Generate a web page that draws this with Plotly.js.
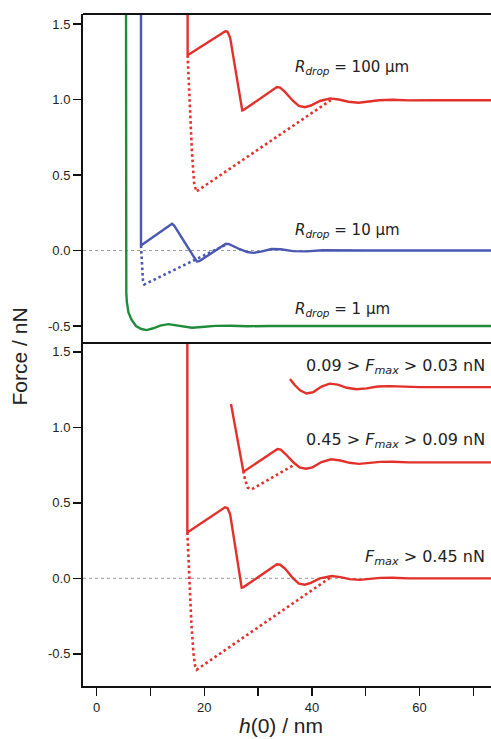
<!DOCTYPE html>
<html>
<head>
<meta charset="utf-8">
<script src="https://cdn.plot.ly/plotly-3.0.1.min.js"></script>
<style>html,body{margin:0;padding:0;background:#fff;}#chart{width:491px;height:739px;}</style>
</head>
<body>
<div id="chart"></div>
<script>
// ---- Top panel: drop radius series ----
const r1X = [5.45, 5.45, 5.45, 5.5, 5.6, 5.9, 6.5, 7.3, 8.3, 9.3, 10.5, 11.8, 13.3, 14.8, 16.3, 17.7, 19.5, 22, 25, 28, 32, 40, 50, 60, 74];
const r1Y = [1.6, 0.5, -0.2, -0.28, -0.34, -0.41, -0.46, -0.5, -0.52, -0.527, -0.515, -0.497, -0.488, -0.495, -0.507, -0.512, -0.507, -0.499, -0.498, -0.502, -0.5, -0.5, -0.5, -0.5, -0.5];

const r10X = [8.23, 8.23, 14.0, 14.4, 18.6, 19.1, 24.0, 24.6, 26.5, 28.0, 29.1, 30.5, 32.5, 34.2, 36.5, 39, 42, 46, 50, 74];
const r10Y = [1.6, 0.033, 0.177, 0.165, -0.073, -0.07, 0.044, 0.042, 0.01, -0.01, -0.016, -0.008, 0.01, 0.008, -0.004, -0.006, 0.002, 0.003, 0, 0];
const r10DotX = [8.23, 8.4, 8.6, 8.85, 23.85];
const r10DotY = [0.033, -0.12, -0.2, -0.225, 0.035];

const r100X = [16.9, 16.9, 23.9, 24.3, 24.8, 27.06, 27.3, 33.5, 34.1, 35.0, 36.5, 37.6, 38.7, 39.8, 41.5, 43.4, 45.0, 46.8, 48.7, 50.5, 52.5, 55, 58, 62, 74];
const r100Y = [1.6, 1.293, 1.452, 1.45, 1.41, 0.927, 0.93, 1.082, 1.078, 1.05, 0.99, 0.957, 0.949, 0.96, 0.99, 1.007, 1.0, 0.985, 0.978, 0.985, 0.995, 0.998, 0.994, 0.995, 0.995];
const r100DotX = [16.9, 17.3, 17.7, 18.1, 18.5, 43.7];
const r100DotY = [1.293, 0.95, 0.65, 0.45, 0.39, 1.0];

// ---- Bottom panel: Fmax series ----
const fHighX = [16.85, 16.85, 23.85, 24.3, 24.8, 26.95, 27.3, 33.5, 34.1, 35.0, 36.5, 37.6, 38.7, 39.8, 41.5, 43.7, 45.3, 47.0, 48.9, 50.7, 52.7, 55, 58, 74];
const fHighY = [1.6, 0.304, 0.47, 0.465, 0.425, -0.062, -0.058, 0.093, 0.09, 0.065, 0.0, -0.035, -0.042, -0.03, 0.0, 0.015, 0.008, -0.005, -0.01, -0.005, 0.003, 0.004, 0, 0];
const fHighDotX = [16.85, 17.2, 17.6, 18.0, 18.3, 18.6, 43.7];
const fHighDotY = [0.304, 0.0, -0.3, -0.5, -0.58, -0.605, 0.012];

const fMidX = [24.96, 27.25, 27.6, 33.6, 34.2, 35.2, 36.5, 37.7, 38.9, 40.1, 41.8, 43.6, 45.3, 47.0, 48.8, 50.7, 52.7, 55, 58, 74];
const fMidY = [1.154, 0.711, 0.713, 0.856, 0.853, 0.82, 0.77, 0.735, 0.726, 0.735, 0.77, 0.788, 0.78, 0.765, 0.758, 0.763, 0.771, 0.772, 0.768, 0.768];
const fMidDotX = [27.25, 27.6, 28.1, 28.8, 36.86];
const fMidDotY = [0.711, 0.65, 0.6, 0.589, 0.755];

const fLowX = [35.93, 36.8, 37.8, 39.0, 40.2, 41.8, 43.3, 44.8, 46.5, 48.3, 50.2, 52.2, 54.5, 57, 60, 74];
const fLowY = [1.32, 1.28, 1.245, 1.224, 1.232, 1.27, 1.289, 1.283, 1.262, 1.252, 1.258, 1.27, 1.273, 1.268, 1.266, 1.266];

// ---- Ticks and labels ----
const xTickVals = [0, 10, 20, 30, 40, 50, 60, 70];
const xTickText = ['0', '', '20', '', '40', '', '60', ''];
const yTickVals = [-0.5, 0, 0.5, 1.0, 1.5];
const yTickText = ['-0.5', '0.0', '0.5', '1.0', '1.5'];
const topLabels = ['<i>R</i><sub><i>drop</i></sub> = 100 µm', '<i>R</i><sub><i>drop</i></sub> = 10 µm', '<i>R</i><sub><i>drop</i></sub> = 1 µm'];
const bottomLabels = ['0.09 &gt; <i>F</i><sub><i>max</i></sub> &gt; 0.03 nN', '0.45 &gt; <i>F</i><sub><i>max</i></sub> &gt; 0.09 nN', '<i>F</i><sub><i>max</i></sub> &gt; 0.45 nN'];

const RED = '#e2312b', BLUE = '#4b58b2', GREEN = '#1f8b3b';
const LW = 2.4;
const DOT = '2.6px,2.9px';

function solid(x, y, c, xa, ya) {
  return {x: x, y: y, type: 'scatter', mode: 'lines', xaxis: xa, yaxis: ya,
          line: {color: c, width: LW}, hoverinfo: 'skip', showlegend: false};
}
function dotted(x, y, c, xa, ya) {
  return {x: x, y: y, type: 'scatter', mode: 'lines', xaxis: xa, yaxis: ya,
          line: {color: c, width: 2.6, dash: DOT}, hoverinfo: 'skip', showlegend: false};
}

const data = [
  solid(r1X, r1Y, GREEN, 'x2', 'y2'),
  dotted(r10DotX, r10DotY, BLUE, 'x2', 'y2'),
  solid(r10X, r10Y, BLUE, 'x2', 'y2'),
  dotted(r100DotX, r100DotY, RED, 'x2', 'y2'),
  solid(r100X, r100Y, RED, 'x2', 'y2'),
  dotted(fHighDotX, fHighDotY, RED, 'x', 'y'),
  solid(fHighX, fHighY, RED, 'x', 'y'),
  dotted(fMidDotX, fMidDotY, RED, 'x', 'y'),
  solid(fMidX, fMidY, RED, 'x', 'y'),
  solid(fLowX, fLowY, RED, 'x', 'y')
];

const tickFont = {family: 'Liberation Sans, Arial, sans-serif', size: 13, color: '#222'};
const annFontTop = {family: 'DejaVu Sans, sans-serif', size: 15, color: '#222'};
const annFontBot = {family: 'DejaVu Sans, sans-serif', size: 16, color: '#222'};
const split = 344 / 672;

const yCommon = {
  showline: true, linecolor: '#111', linewidth: 2, ticks: 'outside', ticklen: 8,
  tickwidth: 1.5, tickcolor: '#111', tickvals: yTickVals, ticktext: yTickText,
  tickfont: tickFont, showgrid: false, zeroline: false, fixedrange: true
};

const layout = {
  width: 491, height: 739,
  margin: {l: 83, r: 0, t: 14, b: 53},
  paper_bgcolor: '#fff', plot_bgcolor: '#fff',
  showlegend: false,
  xaxis: {
    domain: [0, 1], range: [-2.55, 73.3], anchor: 'y',
    showline: true, linecolor: '#111', linewidth: 2, ticks: 'outside', ticklen: 8,
    tickwidth: 1.5, tickcolor: '#111', tickvals: xTickVals, ticktext: xTickText,
    tickfont: tickFont, showgrid: false, zeroline: false
  },
  xaxis2: {
    matches: 'x', anchor: 'y2', showline: true, linecolor: '#111', linewidth: 2,
    showticklabels: false, ticks: '', showgrid: false, zeroline: false
  },
  yaxis: Object.assign({domain: [0, split], range: [-0.713, 1.565]}, yCommon),
  yaxis2: Object.assign({domain: [split, 1], range: [-0.606, 1.566]}, yCommon),
  shapes: [
    {type: 'line', xref: 'paper', yref: 'paper', x0: 0, x1: 1, y0: 1, y1: 1, line: {color: '#111', width: 2}},
    {type: 'line', xref: 'paper', yref: 'y', x0: 0, x1: 1, y0: 0, y1: 0, layer: 'below', line: {color: '#999', width: 1, dash: 'dot'}},
    {type: 'line', xref: 'paper', yref: 'y2', x0: 0, x1: 1, y0: 0, y1: 0, layer: 'below', line: {color: '#999', width: 1, dash: 'dot'}}
  ],
  annotations: [
    {text: topLabels[0], xref: 'x2', yref: 'y2', x: 36.5, y: 1.21, xanchor: 'left', yanchor: 'middle', showarrow: false, font: annFontTop},
    {text: topLabels[1], xref: 'x2', yref: 'y2', x: 36.5, y: 0.13, xanchor: 'left', yanchor: 'middle', showarrow: false, font: annFontTop},
    {text: topLabels[2], xref: 'x2', yref: 'y2', x: 36.5, y: -0.39, xanchor: 'left', yanchor: 'middle', showarrow: false, font: annFontTop},
    {text: bottomLabels[0], xref: 'x', yref: 'y', x: 72.6, y: 1.40, xanchor: 'right', yanchor: 'middle', showarrow: false, font: annFontBot},
    {text: bottomLabels[1], xref: 'x', yref: 'y', x: 72.6, y: 0.91, xanchor: 'right', yanchor: 'middle', showarrow: false, font: annFontBot},
    {text: bottomLabels[2], xref: 'x', yref: 'y', x: 72.6, y: 0.135, xanchor: 'right', yanchor: 'middle', showarrow: false, font: annFontBot},
    {text: 'Force / nN', xref: 'paper', yref: 'paper', x: -0.155, y: 0.49, xanchor: 'center', yanchor: 'middle', textangle: -90, showarrow: false,
     font: {family: 'Liberation Sans, Arial, sans-serif', size: 21, color: '#222'}},
    {text: '<i>h</i>(0) / nm', xref: 'paper', yref: 'paper', x: 0.485, y: -0.0785, xanchor: 'center', yanchor: 'bottom', showarrow: false,
     font: {family: 'Liberation Sans, Arial, sans-serif', size: 21, color: '#222'}}
  ]
};

Plotly.newPlot('chart', data, layout, {displayModeBar: false, staticPlot: true});
</script>
</body>
</html>
